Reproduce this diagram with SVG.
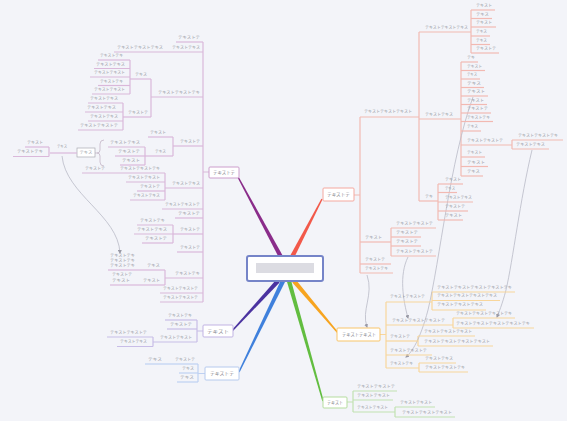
<svg xmlns="http://www.w3.org/2000/svg" width="567" height="421" viewBox="0 0 567 421">
<style>
.t{font-family:"Noto Sans CJK JP","Noto Sans",sans-serif;font-size:4px;fill:#9698a2}
.m{font-family:"Noto Sans CJK JP","Noto Sans",sans-serif;font-size:4.5px;fill:#86868e}
.pu{stroke:#dab8da;stroke-width:1.2;fill:none}
.ru{stroke:#f2b9b2;stroke-width:1.2;fill:none}
.ou{stroke:#f8d69c;stroke-width:1.2;fill:none}
.gu{stroke:#c2e1b1;stroke-width:1.2;fill:none}
.bu{stroke:#bfd1f2;stroke-width:1.2;fill:none}
.iu{stroke:#c8bde7;stroke-width:1.2;fill:none}
.rel{stroke:#b9bac6;stroke-width:0.8;fill:none;marker-end:url(#ar)}
</style>
<defs>
<marker id="ar" markerWidth="4" markerHeight="4" refX="3" refY="2" orient="auto" markerUnits="userSpaceOnUse"><path d="M0,0L4,2L0,4z" fill="#9a9aa6"/></marker>
</defs>
<rect width="567" height="421" fill="#f3f4f9"/>

<g id="connectors">
<polygon points="237.4,177.3 238.6,176.7 282.9,256 279.1,258" fill="#8a2c8a"/>
<polygon points="321.4,198.7 322.6,199.3 294,258 290,256" fill="#f2594a"/>
<polygon points="338.5,332.5 337.5,333.5 292.3,282.4 295.7,279.6" fill="#f7a41f"/>
<polygon points="323.7,400.8 322.3,401.2 286.9,281.6 291.1,280.4" fill="#62bd40"/>
<polygon points="239.6,372.3 238.4,371.7 281,280 285,282" fill="#3f80dc"/>
<polygon points="232.5,331.5 231.5,330.5 276.4,279.5 279.6,282.5" fill="#4b33a0"/>
<path class="pu" d="M203,172H209M203,42V302M151,79V117M130,60V94M123,103V130M173,137V156M145,147V165M49,147V156.5M165,173V200M173,225V243M165,270V285"/>
<path d="M104,140Q100,140 100,144V150Q100,153 97,153Q100,153 100,156V162Q100,166 104,166" stroke="#c4b6c8" stroke-width="0.8" fill="none"/>
<path d="M95,153H97" stroke="#c4b6c8" stroke-width="0.8"/>
<path class="ru" d="M354,195H360M360,117V273M419,32V201M471,10V53M461,62V176M512,140V149M438,184V220M391,228V256"/>
<path class="ou" d="M380,334.5H386M386,302V368M432,292V310M453,318V328M418,336V346M419,363V372"/>
<path class="gu" d="M347,402H353M353,391V412M395,407V417"/>
<path class="bu" d="M198,373.5H205M198,364V382"/>
<path class="iu" d="M197,331H203M197,320V342M153,337V346.5"/>
<path class="rel" d="M62,156C66,195 118,215 120,253"/>
<path class="rel" d="M367,275C374,295 361,310 367,327"/>
<path class="rel" d="M408,257C399,275 403,300 408,318"/>
<path class="rel" d="M473,97C450,160 440,260 428,310C420,340 412,352 406,357"/>
<path class="rel" d="M532,150C520,200 513,260 506,290C502,305 499,312 497,317"/>
</g>

<g id="central"><rect x="247" y="256" width="76" height="25" rx="2" fill="#ffffff" stroke="#7584c8" stroke-width="2"/><rect x="256" y="263" width="58" height="10" fill="#dcdce2"/></g>

<g id="main-purple"><rect x="209" y="167" width="30" height="11" rx="1" fill="#fff" stroke="#cc9ecc" stroke-width="1"/><text class="m" x="213" y="174" textLength="22" lengthAdjust="spacingAndGlyphs">テキストテ</text></g>
<g id="main-red"><rect x="323" y="188" width="31" height="13" rx="1" fill="#fff" stroke="#f4a89f" stroke-width="1"/><text class="m" x="327" y="196" textLength="23" lengthAdjust="spacingAndGlyphs">テキストテ</text></g>
<g id="main-orange"><rect x="337" y="328" width="43" height="13" rx="1" fill="#fff" stroke="#f8c56a" stroke-width="1"/><text class="m" x="342" y="336" textLength="34" lengthAdjust="spacingAndGlyphs">テキストテキスト</text></g>
<g id="main-green"><rect x="323" y="397" width="24" height="11" rx="1" fill="#fff" stroke="#b5dd9f" stroke-width="1"/><text class="m" x="327" y="404" textLength="16" lengthAdjust="spacingAndGlyphs">テキスト</text></g>
<g id="main-blue"><rect x="205" y="367" width="34" height="13" rx="1" fill="#fff" stroke="#b6caee" stroke-width="1"/><text class="m" x="210" y="375" textLength="24" lengthAdjust="spacingAndGlyphs">テキストテ</text></g>
<g id="main-indigo"><rect x="203" y="325" width="30" height="12" rx="1" fill="#fff" stroke="#c1b3e3" stroke-width="1"/><text class="m" x="207" y="332.5" textLength="22" lengthAdjust="spacingAndGlyphs">テキスト</text></g>

<g id="p1"><path class="pu" d="M176,42H203"/><text class="t" x="178" y="39.4" textLength="22" lengthAdjust="spacingAndGlyphs">テキストテ</text></g>
<g id="p2"><path class="pu" d="M168,52H203"/><text class="t" x="172" y="48.9" textLength="28" lengthAdjust="spacingAndGlyphs">テキストテキス</text></g>
<g id="p2a"><path class="pu" d="M114,52H168"/><text class="t" x="117" y="48.9" textLength="46" lengthAdjust="spacingAndGlyphs">テキストテキストテキス</text></g>
<g id="p3"><path class="pu" d="M151,97H203"/><text class="t" x="158" y="94.4" textLength="42" lengthAdjust="spacingAndGlyphs">テキストテキストテキ</text></g>
<g id="p3a"><path class="pu" d="M130,79H151"/><text class="t" x="135" y="76.4" textLength="12" lengthAdjust="spacingAndGlyphs">テキス</text></g>
<g id="p3a1"><path class="pu" d="M98,60H130"/><text class="t" x="100" y="57.4" textLength="23" lengthAdjust="spacingAndGlyphs">テキストテキ</text></g>
<g id="p3a2"><path class="pu" d="M94,68.5H130"/><text class="t" x="96" y="65.9" textLength="29" lengthAdjust="spacingAndGlyphs">テキストテキス</text></g>
<g id="p3a3"><path class="pu" d="M90,77H130"/><text class="t" x="94" y="74.4" textLength="31" lengthAdjust="spacingAndGlyphs">テキストテキスト</text></g>
<g id="p3a4"><path class="pu" d="M98,85.5H130"/><text class="t" x="100" y="82.9" textLength="23" lengthAdjust="spacingAndGlyphs">テキストテキ</text></g>
<g id="p3a5"><path class="pu" d="M92,94H130"/><text class="t" x="94" y="91.4" textLength="31" lengthAdjust="spacingAndGlyphs">テキストテキスト</text></g>
<g id="p3b"><path class="pu" d="M123,117H151"/><text class="t" x="128" y="114.4" textLength="20" lengthAdjust="spacingAndGlyphs">テキストテ</text></g>
<g id="p3b1"><path class="pu" d="M88,103H123"/><text class="t" x="90" y="100.4" textLength="28" lengthAdjust="spacingAndGlyphs">テキストテキス</text></g>
<g id="p3b2"><path class="pu" d="M85,112H123"/><text class="t" x="87" y="109.4" textLength="29" lengthAdjust="spacingAndGlyphs">テキストテキス</text></g>
<g id="p3b3"><path class="pu" d="M88,121H123"/><text class="t" x="90" y="118.4" textLength="28" lengthAdjust="spacingAndGlyphs">テキストテキス</text></g>
<g id="p3b4"><path class="pu" d="M78,130H123"/><text class="t" x="80" y="127.4" textLength="38" lengthAdjust="spacingAndGlyphs">テキストテキストテ</text></g>
<g id="p4"><path class="pu" d="M173,146H203"/><text class="t" x="180" y="143.4" textLength="20" lengthAdjust="spacingAndGlyphs">テキストテ</text></g>
<g id="p4a"><path class="pu" d="M148,137H173"/><text class="t" x="150" y="134.4" textLength="16" lengthAdjust="spacingAndGlyphs">テキスト</text></g>
<g id="p4b"><path class="pu" d="M145,156H173"/><text class="t" x="155" y="153.4" textLength="11" lengthAdjust="spacingAndGlyphs">テキス</text></g>
<g id="p4b1"><path class="pu" d="M108,147H145"/><text class="t" x="110" y="144.4" textLength="30" lengthAdjust="spacingAndGlyphs">テキストテキス</text></g>
<g id="p4b2"><path class="pu" d="M115,156H145"/><text class="t" x="118" y="153.4" textLength="22" lengthAdjust="spacingAndGlyphs">テキストテ</text></g>
<g id="p4b3"><path class="pu" d="M120,165H145"/><text class="t" x="122" y="162.4" textLength="18" lengthAdjust="spacingAndGlyphs">テキスト</text></g>
<g id="summary"><rect x="77" y="148" width="18" height="9" fill="#fff" stroke="#a9a9b2" stroke-width="0.7"/><text class="t" x="79.5" y="154.2" textLength="13" lengthAdjust="spacingAndGlyphs">テキス</text></g>
<g id="s1"><path class="pu" d="M50,153H77"/><text class="t" x="57" y="148.4" textLength="10" lengthAdjust="spacingAndGlyphs">テキス</text></g>
<g id="s1a"><path class="pu" d="M25,147H49"/><text class="t" x="27" y="144.4" textLength="16" lengthAdjust="spacingAndGlyphs">テキスト</text></g>
<g id="s1b"><path class="pu" d="M13,156.5H49"/><text class="t" x="17" y="153.4" textLength="26" lengthAdjust="spacingAndGlyphs">テキストテキ</text></g>
<g id="p5"><path class="pu" d="M165,188H203"/><text class="t" x="172" y="185.4" textLength="28" lengthAdjust="spacingAndGlyphs">テキストテキス</text></g>
<g id="p5a"><path class="pu" d="M115,173H165"/><text class="t" x="120" y="170.4" textLength="40" lengthAdjust="spacingAndGlyphs">テキストテキストテキ</text></g>
<g id="p5a1"><path class="pu" d="M82,173H115"/><text class="t" x="85" y="170.4" textLength="20" lengthAdjust="spacingAndGlyphs">テキストテ</text></g>
<g id="p5b"><path class="pu" d="M126,182H165"/><text class="t" x="128" y="179.4" textLength="32" lengthAdjust="spacingAndGlyphs">テキストテキスト</text></g>
<g id="p5c"><path class="pu" d="M137,191H165"/><text class="t" x="140" y="188.4" textLength="20" lengthAdjust="spacingAndGlyphs">テキストテ</text></g>
<g id="p5d"><path class="pu" d="M130,200H165"/><text class="t" x="133" y="197.4" textLength="27" lengthAdjust="spacingAndGlyphs">テキストテキス</text></g>
<g id="p6"><path class="pu" d="M162,209H203"/><text class="t" x="165" y="206.4" textLength="35" lengthAdjust="spacingAndGlyphs">テキストテキストテ</text></g>
<g id="p7"><path class="pu" d="M175,218H203"/><text class="t" x="178" y="215.4" textLength="22" lengthAdjust="spacingAndGlyphs">テキストテ</text></g>
<g id="p8"><path class="pu" d="M173,234H203"/><text class="t" x="180" y="231.4" textLength="20" lengthAdjust="spacingAndGlyphs">テキストテ</text></g>
<g id="p8a"><path class="pu" d="M137,225H173"/><text class="t" x="140" y="222.4" textLength="25" lengthAdjust="spacingAndGlyphs">テキストテキ</text></g>
<g id="p8b"><path class="pu" d="M134,234H173"/><text class="t" x="137" y="231.4" textLength="30" lengthAdjust="spacingAndGlyphs">テキストテキス</text></g>
<g id="p8c"><path class="pu" d="M142,243H173"/><text class="t" x="145" y="240.4" textLength="22" lengthAdjust="spacingAndGlyphs">テキストテ</text></g>
<g id="p9"><path class="pu" d="M177,252H203"/><text class="t" x="180" y="249.4" textLength="20" lengthAdjust="spacingAndGlyphs">テキストテ</text></g>
<g id="p10"><path class="pu" d="M165,278H203"/><text class="t" x="175" y="275.4" textLength="25" lengthAdjust="spacingAndGlyphs">テキストテキ</text></g>
<g id="p10a"><path class="pu" d="M138,270H165"/><text class="t" x="147" y="267.4" textLength="13" lengthAdjust="spacingAndGlyphs">テキス</text></g>
<g id="p10a1"><path class="pu" d="M108,270H138"/><text class="t" x="110" y="257.4" textLength="25" lengthAdjust="spacingAndGlyphs">テキストテキ</text><text class="t" x="110" y="262.4" textLength="25" lengthAdjust="spacingAndGlyphs">テキストテキ</text><text class="t" x="110" y="267.4" textLength="25" lengthAdjust="spacingAndGlyphs">テキストテキ</text></g>
<g id="p10b"><path class="pu" d="M138,285H165"/><text class="t" x="143" y="282.4" textLength="17" lengthAdjust="spacingAndGlyphs">テキスト</text></g>
<g id="p10b1"><path class="pu" d="M110,285H138"/><text class="t" x="112" y="276.4" textLength="20" lengthAdjust="spacingAndGlyphs">テキストテ</text><text class="t" x="112" y="282.4" textLength="18" lengthAdjust="spacingAndGlyphs">テキスト</text></g>
<g id="p11"><path class="pu" d="M160,293H203"/><text class="t" x="163" y="290.4" textLength="35" lengthAdjust="spacingAndGlyphs">テキストテキストテ</text></g>
<g id="p12"><path class="pu" d="M160,302H203"/><text class="t" x="163" y="299.4" textLength="35" lengthAdjust="spacingAndGlyphs">テキストテキストテ</text></g>

<g id="r1"><path class="ru" d="M360,117H419"/><text class="t" x="364" y="113.4" textLength="48" lengthAdjust="spacingAndGlyphs">テキストテキストテキスト</text></g>
<g id="r1a"><path class="ru" d="M419,32H471"/><text class="t" x="425" y="29.4" textLength="43" lengthAdjust="spacingAndGlyphs">テキストテキストテキス</text></g>
<g id="r1a1"><path class="ru" d="M471,10H495"/><text class="t" x="476" y="7.4" textLength="16" lengthAdjust="spacingAndGlyphs">テキスト</text></g>
<g id="r1a2"><path class="ru" d="M471,18.5H492"/><text class="t" x="476" y="15.9" textLength="13" lengthAdjust="spacingAndGlyphs">テキス</text></g>
<g id="r1a3"><path class="ru" d="M471,27H496"/><text class="t" x="476" y="24.4" textLength="16" lengthAdjust="spacingAndGlyphs">テキスト</text></g>
<g id="r1a4"><path class="ru" d="M471,36H490"/><text class="t" x="476" y="33.4" textLength="11" lengthAdjust="spacingAndGlyphs">テキス</text></g>
<g id="r1a5"><path class="ru" d="M471,44.5H490"/><text class="t" x="476" y="41.9" textLength="11" lengthAdjust="spacingAndGlyphs">テキス</text></g>
<g id="r1a6"><path class="ru" d="M471,53H499"/><text class="t" x="476" y="50.4" textLength="20" lengthAdjust="spacingAndGlyphs">テキストテ</text></g>
<g id="r1b"><path class="ru" d="M419,119H461"/><text class="t" x="425" y="116.4" textLength="28" lengthAdjust="spacingAndGlyphs">テキストテキス</text></g>
<g id="r1b1"><path class="ru" d="M461,62H478"/><text class="t" x="467" y="59.4" textLength="8" lengthAdjust="spacingAndGlyphs">テキ</text></g>
<g id="r1b2"><path class="ru" d="M461,70.5H485"/><text class="t" x="467" y="67.9" textLength="15" lengthAdjust="spacingAndGlyphs">テキスト</text></g>
<g id="r1b3"><path class="ru" d="M461,79H480"/><text class="t" x="467" y="76.4" textLength="10" lengthAdjust="spacingAndGlyphs">テキス</text></g>
<g id="r1b4"><path class="ru" d="M461,87.5H484"/><text class="t" x="467" y="84.9" textLength="14" lengthAdjust="spacingAndGlyphs">テキス</text></g>
<g id="r1b5"><path class="ru" d="M461,96H488"/><text class="t" x="467" y="93.4" textLength="18" lengthAdjust="spacingAndGlyphs">テキスト</text></g>
<g id="r1b6"><path class="ru" d="M461,104.5H487"/><text class="t" x="467" y="101.9" textLength="17" lengthAdjust="spacingAndGlyphs">テキスト</text></g>
<g id="r1b7"><path class="ru" d="M461,113H491"/><text class="t" x="467" y="110.4" textLength="21" lengthAdjust="spacingAndGlyphs">テキストテ</text></g>
<g id="r1b8"><path class="ru" d="M461,121.5H493"/><text class="t" x="467" y="118.9" textLength="23" lengthAdjust="spacingAndGlyphs">テキストテキ</text></g>
<g id="r1b9"><path class="ru" d="M461,131H481"/><text class="t" x="467" y="128.4" textLength="11" lengthAdjust="spacingAndGlyphs">テキス</text></g>
<g id="r1b10"><path class="ru" d="M461,145H512"/><text class="t" x="467" y="142.4" textLength="36" lengthAdjust="spacingAndGlyphs">テキストテキストテ</text></g>
<g id="r1b10a"><path class="ru" d="M512,140H563"/><text class="t" x="518" y="137.4" textLength="40" lengthAdjust="spacingAndGlyphs">テキストテキストテキ</text></g>
<g id="r1b10b"><path class="ru" d="M512,149H549"/><text class="t" x="516" y="146.4" textLength="29" lengthAdjust="spacingAndGlyphs">テキストテキス</text></g>
<g id="r1b11"><path class="ru" d="M461,157H485"/><text class="t" x="467" y="154.4" textLength="15" lengthAdjust="spacingAndGlyphs">テキスト</text></g>
<g id="r1b12"><path class="ru" d="M461,166.5H488"/><text class="t" x="467" y="163.9" textLength="18" lengthAdjust="spacingAndGlyphs">テキスト</text></g>
<g id="r1b13"><path class="ru" d="M461,176H483"/><text class="t" x="467" y="173.4" textLength="13" lengthAdjust="spacingAndGlyphs">テキス</text></g>
<g id="r1c"><path class="ru" d="M419,201H438"/><text class="t" x="425" y="198.4" textLength="8" lengthAdjust="spacingAndGlyphs">テキ</text></g>
<g id="r1c1"><path class="ru" d="M438,184H463"/><text class="t" x="445" y="181.4" textLength="16" lengthAdjust="spacingAndGlyphs">テキスト</text></g>
<g id="r1c2"><path class="ru" d="M438,192.5H457"/><text class="t" x="445" y="189.9" textLength="10" lengthAdjust="spacingAndGlyphs">テキス</text></g>
<g id="r1c3"><path class="ru" d="M438,202H473"/><text class="t" x="445" y="199.4" textLength="27" lengthAdjust="spacingAndGlyphs">テキストテキス</text></g>
<g id="r1c4"><path class="ru" d="M438,211H468"/><text class="t" x="445" y="208.4" textLength="20" lengthAdjust="spacingAndGlyphs">テキストテ</text></g>
<g id="r1c5"><path class="ru" d="M438,220H463"/><text class="t" x="445" y="217.4" textLength="17" lengthAdjust="spacingAndGlyphs">テキスト</text></g>
<g id="r2"><path class="ru" d="M360,242H391"/><text class="t" x="365" y="239.4" textLength="17" lengthAdjust="spacingAndGlyphs">テキスト</text></g>
<g id="r2a"><path class="ru" d="M391,228H436"/><text class="t" x="396" y="224.9" textLength="37" lengthAdjust="spacingAndGlyphs">テキストテキストテ</text></g>
<g id="r2b"><path class="ru" d="M391,237H421"/><text class="t" x="396" y="234.4" textLength="22" lengthAdjust="spacingAndGlyphs">テキストテ</text></g>
<g id="r2c"><path class="ru" d="M391,246H421"/><text class="t" x="396" y="243.4" textLength="22" lengthAdjust="spacingAndGlyphs">テキストテ</text></g>
<g id="r2d"><path class="ru" d="M391,256H436"/><text class="t" x="396" y="252.9" textLength="37" lengthAdjust="spacingAndGlyphs">テキストテキストテ</text></g>
<g id="r3"><path class="ru" d="M360,264H391"/><text class="t" x="365" y="261.4" textLength="20" lengthAdjust="spacingAndGlyphs">テキストテ</text></g>
<g id="r4"><path class="ru" d="M360,273H393"/><text class="t" x="365" y="270.4" textLength="23" lengthAdjust="spacingAndGlyphs">テキストテキ</text></g>

<g id="o1"><path class="ou" d="M386,302H432"/><text class="t" x="390" y="298.4" textLength="35" lengthAdjust="spacingAndGlyphs">テキストテキストテ</text></g>
<g id="o1a"><path class="ou" d="M432,292H515"/><text class="t" x="437" y="288.9" textLength="75" lengthAdjust="spacingAndGlyphs">テキストテキストテキストテキストテキ</text></g>
<g id="o1b"><path class="ou" d="M432,300.5H500"/><text class="t" x="437" y="297.4" textLength="60" lengthAdjust="spacingAndGlyphs">テキストテキストテキストテキス</text></g>
<g id="o1c"><path class="ou" d="M432,310H486"/><text class="t" x="437" y="306.4" textLength="46" lengthAdjust="spacingAndGlyphs">テキストテキストテキス</text></g>
<g id="o2"><path class="ou" d="M386,325H453"/><text class="t" x="392" y="321.9" textLength="53" lengthAdjust="spacingAndGlyphs">テキストテキストテキストテ</text></g>
<g id="o2a"><path class="ou" d="M453,318H515"/><text class="t" x="456" y="315.4" textLength="56" lengthAdjust="spacingAndGlyphs">テキストテキストテキストテキ</text></g>
<g id="o2b"><path class="ou" d="M453,328H534"/><text class="t" x="456" y="324.9" textLength="74" lengthAdjust="spacingAndGlyphs">テキストテキストテキストテキストテキ</text></g>
<g id="o3"><path class="ou" d="M386,341H418"/><text class="t" x="390" y="338.4" textLength="20" lengthAdjust="spacingAndGlyphs">テキストテ</text></g>
<g id="o3a"><path class="ou" d="M418,336H475"/><text class="t" x="424" y="333.4" textLength="48" lengthAdjust="spacingAndGlyphs">テキストテキストテキスト</text></g>
<g id="o3b"><path class="ou" d="M418,346H493"/><text class="t" x="424" y="342.9" textLength="66" lengthAdjust="spacingAndGlyphs">テキストテキストテキストテキスト</text></g>
<g id="o4"><path class="ou" d="M386,355H432"/><text class="t" x="390" y="352.4" textLength="37" lengthAdjust="spacingAndGlyphs">テキストテキストテ</text></g>
<g id="o5"><path class="ou" d="M386,368H419"/><text class="t" x="390" y="364.9" textLength="23" lengthAdjust="spacingAndGlyphs">テキストテキ</text></g>
<g id="o5a"><path class="ou" d="M419,363H456"/><text class="t" x="425" y="360.4" textLength="28" lengthAdjust="spacingAndGlyphs">テキストテキス</text></g>
<g id="o5b"><path class="ou" d="M419,372H468"/><text class="t" x="425" y="368.9" textLength="40" lengthAdjust="spacingAndGlyphs">テキストテキストテキ</text></g>

<g id="g1"><path class="gu" d="M353,391H397"/><text class="t" x="357" y="387.9" textLength="38" lengthAdjust="spacingAndGlyphs">テキストテキストテ</text></g>
<g id="g2"><path class="gu" d="M353,400H393"/><text class="t" x="357" y="396.9" textLength="33" lengthAdjust="spacingAndGlyphs">テキストテキスト</text></g>
<g id="g3"><path class="gu" d="M353,412H395"/><text class="t" x="357" y="409.4" textLength="31" lengthAdjust="spacingAndGlyphs">テキストテキスト</text></g>
<g id="g3a"><path class="gu" d="M395,407H435"/><text class="t" x="400" y="404.4" textLength="32" lengthAdjust="spacingAndGlyphs">テキストテキスト</text></g>
<g id="g3b"><path class="gu" d="M395,417H455"/><text class="t" x="402" y="414.4" textLength="50" lengthAdjust="spacingAndGlyphs">テキストテキストテキスト</text></g>

<g id="b1"><path class="bu" d="M170,364H198"/><text class="t" x="175" y="361.4" textLength="20" lengthAdjust="spacingAndGlyphs">テキストテ</text></g>
<g id="b1a"><path class="bu" d="M145,364H170"/><text class="t" x="148" y="361.4" textLength="14" lengthAdjust="spacingAndGlyphs">テキス</text></g>
<g id="b2"><path class="bu" d="M179,373H198"/><text class="t" x="182" y="370.4" textLength="12" lengthAdjust="spacingAndGlyphs">テキス</text></g>
<g id="b3"><path class="bu" d="M177,382H198"/><text class="t" x="180" y="378.9" textLength="14" lengthAdjust="spacingAndGlyphs">テキス</text></g>

<g id="i1"><path class="iu" d="M165,320H197"/><text class="t" x="168" y="317.4" textLength="24" lengthAdjust="spacingAndGlyphs">テキストテキ</text></g>
<g id="i2"><path class="iu" d="M167,329H197"/><text class="t" x="170" y="325.9" textLength="22" lengthAdjust="spacingAndGlyphs">テキストテ</text></g>
<g id="i3"><path class="iu" d="M153,342H197"/><text class="t" x="160" y="339.4" textLength="32" lengthAdjust="spacingAndGlyphs">テキストテキスト</text></g>
<g id="i3a"><path class="iu" d="M107,337H153"/><text class="t" x="110" y="334.4" textLength="37" lengthAdjust="spacingAndGlyphs">テキストテキストテ</text></g>
<g id="i3b"><path class="iu" d="M117,346.5H153"/><text class="t" x="120" y="342.9" textLength="27" lengthAdjust="spacingAndGlyphs">テキストテキス</text></g>
</svg>
